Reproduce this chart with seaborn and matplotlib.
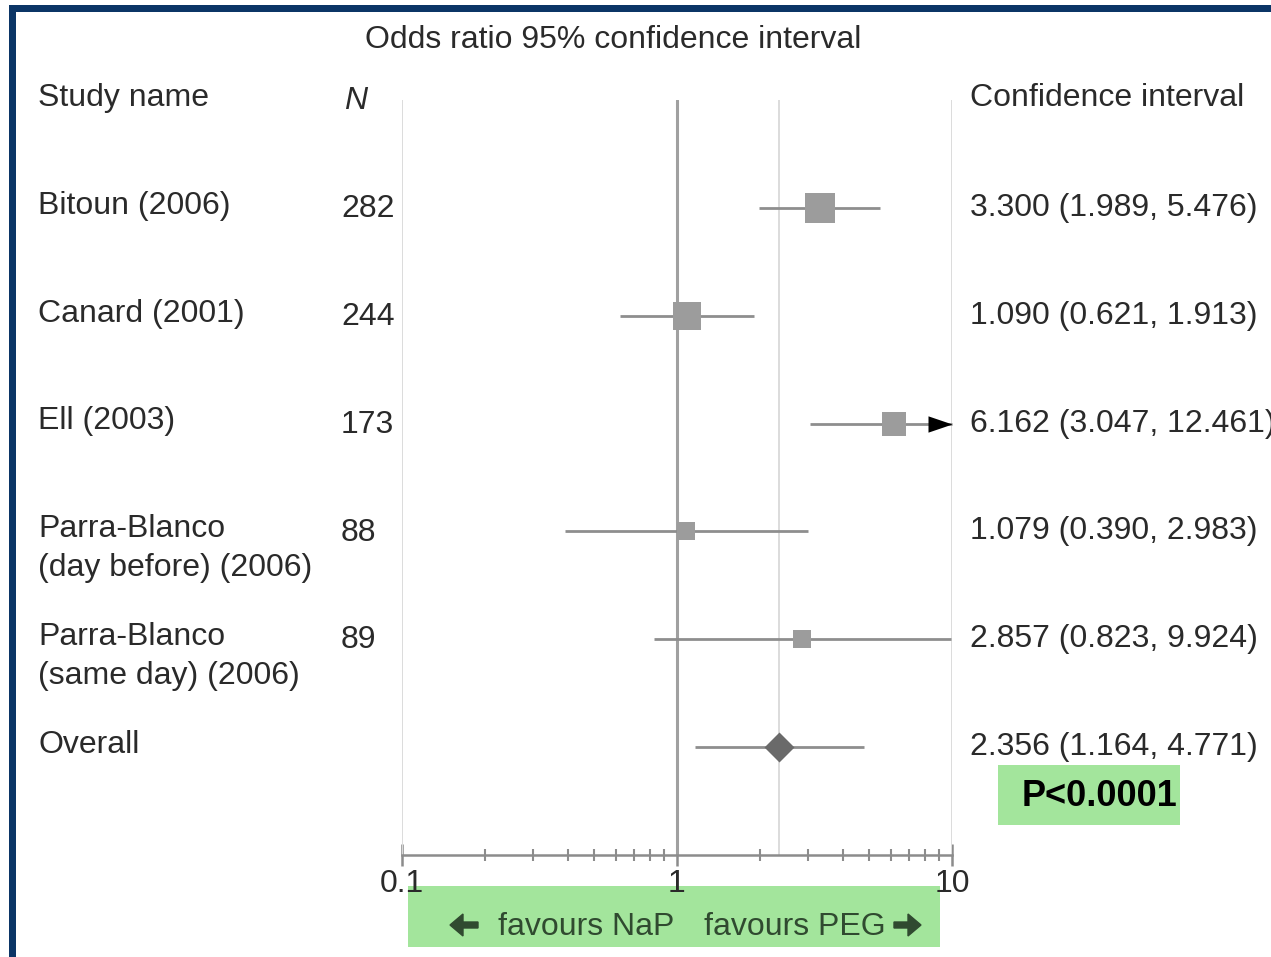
import numpy as np
import pandas as pd
import matplotlib
matplotlib.use("Agg")
import matplotlib.pyplot as plt
import matplotlib.transforms as mtransforms
from matplotlib.patches import Rectangle, FancyArrow
import seaborn as sns

# ---- data -------------------------------------------------------------
studies = ["Bitoun (2006)", "Canard (2001)", "Ell (2003)",
           "Parra-Blanco\n(day before) (2006)",
           "Parra-Blanco\n(same day) (2006)", "Overall"]
n_patients = ["282", "244", "173", "88", "89", ""]
odds_ratio = [3.300, 1.090, 6.162, 1.079, 2.857, 2.356]
ci_lower = [1.989, 0.621, 3.047, 0.390, 0.823, 1.164]
ci_upper = [5.476, 1.913, 12.461, 2.983, 9.924, 4.771]
box_px = [30, 28, 24, 18, 18, 30]          # marker size in pixels
kind = ["study"] * 5 + ["overall"]
tick_values = [0.1, 1, 10]
tick_labels = ["0.1", "1", "10"]
p_text = "P<0.0001"

df = pd.DataFrame({"study": studies, "n": n_patients, "or": odds_ratio,
                   "lo": ci_lower, "hi": ci_upper, "px": box_px, "kind": kind})
df["row"] = np.arange(len(df))

# ---- style ------------------------------------------------------------
sns.set_theme(style="white")
plt.rcParams["font.family"] = ["Liberation Sans", "DejaVu Sans"]
TXT = "#2a2a2a"
FS = 23

W, H = 1271, 957
fig = plt.figure(figsize=(W / 100, H / 100), dpi=100)
fig.patch.set_facecolor("white")

# plot panel: x from 0.1 to 10 (log), rows on y
x0, x1, ytop, ybot = 402, 952, 100, 855
ax = fig.add_axes([x0 / W, 1 - ybot / H, (x1 - x0) / W, (ybot - ytop) / H])
ax.set_xscale("log")
ax.set_xlim(0.1, 10)
ax.set_ylim(6.0, -1.0)
ax.patch.set_alpha(0)

# reference lines
for v in [0.1, 10, odds_ratio[-1]]:
    ax.axvline(v, color="#dcdcdc", lw=1.4, zorder=1)
ax.axvline(1, color="#a0a0a0", lw=2.2, zorder=1)

# confidence interval lines
ax.hlines(df["row"], df["lo"], df["hi"].clip(upper=10), color="#8e8e8e",
          lw=2.0, zorder=2, clip_on=False)

# study squares
studies_df = df[df["kind"] == "study"].copy()
studies_df["s"] = (studies_df["px"] * 0.72) ** 2
sns.scatterplot(data=studies_df, x="or", y="row", marker="s",
                s=studies_df["s"].values, color="#9c9c9c", linewidth=0,
                ax=ax, zorder=3, legend=False)

# pooled estimate diamond
overall_df = df[df["kind"] == "overall"].copy()
overall_df["s"] = (overall_df["px"] / np.sqrt(2) * 0.72) ** 2
sns.scatterplot(data=overall_df, x="or", y="row", marker="D",
                s=overall_df["s"].values, color="#6a6a6a", linewidth=0,
                ax=ax, zorder=4, legend=False)

# arrow showing an interval that runs past the axis limit
tri = [(0, 0), (-1, -0.34), (-1, 0.34)]
clipped = df[df["hi"] > 10]
ax.scatter(np.full(len(clipped), 10.0), clipped["row"], marker=tri,
           s=(2 * 24 * 0.72) ** 2, color="black", linewidth=0,
           zorder=5, clip_on=False)

# axis styling
for side in ["top", "left", "right"]:
    ax.spines[side].set_visible(False)
ax.spines["bottom"].set_color("#8c8c8c")
ax.spines["bottom"].set_linewidth(1.8)
ax.set_xticks(tick_values)
ax.set_xticklabels(tick_labels)
ax.xaxis.set_minor_locator(matplotlib.ticker.LogLocator(base=10, subs=np.arange(2, 10)))
ax.xaxis.set_minor_formatter(matplotlib.ticker.NullFormatter())
ax.tick_params(axis="x", which="major", direction="inout", length=16, width=1.8,
               color="#8c8c8c", labelsize=FS, labelcolor=TXT, pad=2, bottom=True)
ax.tick_params(axis="x", which="minor", direction="inout", length=8, width=1.5,
               color="#8c8c8c", bottom=True)
ax.set_yticks([])
ax.set_xlabel("")
ax.set_ylabel("")

# ---- table text --------------------------------------------------------
tr = mtransforms.blended_transform_factory(fig.transFigure, ax.transData)
def fx(px):
    return px / W
def fy(py):
    return 1 - py / H

for _, r in df.iterrows():
    lines = r["study"].split("\n")
    for k, line in enumerate(lines):
        fig.text(fx(38), r["row"] - 0.02 + 0.36 * k, line, transform=tr,
                 ha="left", va="center", fontsize=FS, color=TXT)
    if r["n"]:
        fig.text(fx(341), r["row"] + 0.01, r["n"], transform=tr,
                 ha="left", va="center", fontsize=FS, color=TXT)
    fig.text(fx(970), r["row"] - 0.0,
             f"{r['or']:.3f} ({r['lo']:.3f}, {r['hi']:.3f})", transform=tr,
             ha="left", va="center", fontsize=FS, color=TXT)

# headers
fig.text(fx(613), fy(40), "Odds ratio 95% confidence interval",
         ha="center", va="center", fontsize=FS, color=TXT)
fig.text(fx(38), fy(98), "Study name", ha="left", va="center",
         fontsize=FS, color=TXT)
fig.text(fx(344), fy(101), "N", ha="left", va="center", fontsize=FS,
         color=TXT, style="italic")
fig.text(fx(970), fy(98), "Confidence interval", ha="left", va="center",
         fontsize=FS, color=TXT)

# significance box
fig.add_artist(Rectangle((fx(998), fy(825)), 182 / W, 60 / H,
                         transform=fig.transFigure, facecolor="#a3e59c",
                         edgecolor="none", zorder=0))
fig.text(fx(1100), fy(797), p_text, ha="center", va="center",
         fontsize=26, fontweight="bold", color="black")

# direction box under the axis
fig.add_artist(Rectangle((fx(408), fy(947)), 532 / W, 61 / H,
                         transform=fig.transFigure, facecolor="#a3e59c",
                         edgecolor="none", zorder=-1))
GRN = "#304a30"
fig.text(fx(674), fy(927), "favours NaP", ha="right", va="center",
         fontsize=FS, color=GRN)
fig.text(fx(704), fy(927), "favours PEG", ha="left", va="center",
         fontsize=FS, color=GRN)
# bold direction arrows (drawn in pixel space)
ident = mtransforms.IdentityTransform()
ay = H - 925
for xs, dx in [(478, -28), (894, 27)]:
    fig.add_artist(FancyArrow(xs, ay, dx, 0, width=6, head_width=22,
                              head_length=13, length_includes_head=True,
                              color=GRN, transform=ident))

# frame
NAVY = "#0b3566"
fig.add_artist(Rectangle((fx(9), 0), 7 / W, 1 - 5 / H, transform=fig.transFigure,
                         facecolor=NAVY, edgecolor="none"))
fig.add_artist(Rectangle((fx(9), fy(12)), 1, 7 / H, transform=fig.transFigure,
                         facecolor=NAVY, edgecolor="none"))

fig.savefig("out.png", dpi=100)
